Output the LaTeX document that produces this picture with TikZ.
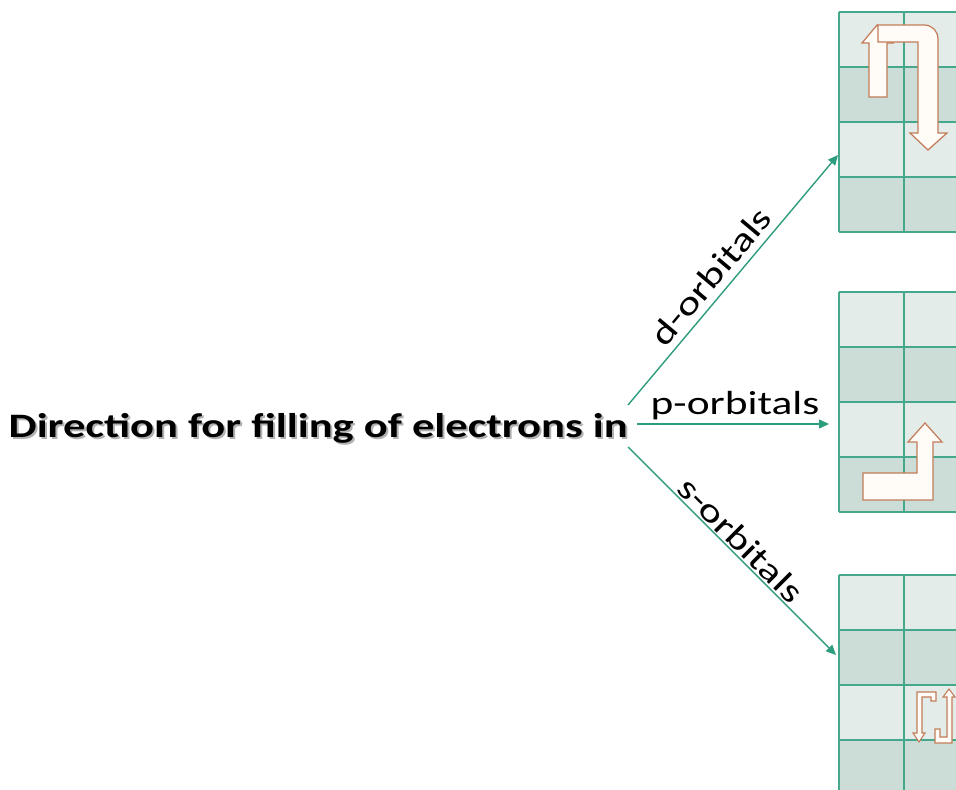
\documentclass[tikz,border=0pt]{standalone}
\usepackage{fontspec}
\setmainfont{Carlito}[FakeStretch=1.3]
\usetikzlibrary{arrows.meta}
\definecolor{gridline}{HTML}{45A88C}
\definecolor{connteal}{HTML}{2E9C7E}
\definecolor{lightcell}{HTML}{E4ECE9}
\definecolor{darkcell}{HTML}{CBDDD6}
\definecolor{arrowline}{HTML}{C27C5A}
\definecolor{arrowfill}{HTML}{FFFBF6}
\tikzset{
	conn/.style={draw=connteal, line width=0.8pt, -{Triangle[length=2mm,width=1.8mm]}},
	lbl/.style={font=\fontsize{19}{22}\selectfont, inner sep=1pt},
	bentarrow/.style={draw=arrowline, fill=arrowfill, line width=0.7pt, line join=miter},
}

\begin{document}
\begin{tikzpicture}[x=0.02cm,y=-0.02cm,thick]
		\useasboundingbox (0,0) rectangle (956,790);
		\clip (0,0) rectangle (956,790);
		% the three grids, rows 55 high, cells 65 wide
		\foreach \gtop in {12,292,575}{
			\foreach \r/\cellcol in {0/lightcell,1/darkcell,2/lightcell,3/darkcell}
				\fill[\cellcol] (839,{\gtop+55*\r}) rectangle (975,{\gtop+55*(\r+1)});
			\foreach \r in {0,...,4}
				\draw[gridline, line width=1.1pt] (839,{\gtop+55*\r}) -- (975,{\gtop+55*\r});
			\foreach \gx in {839,904}
				\draw[gridline, line width=1.1pt] (\gx,\gtop) -- (\gx,{\gtop+220});
		}
		
		\coordinate (dfrom) at (628,405);%start d
		\coordinate (pfrom) at (637,424);%start p
		\coordinate (sfrom) at (628,447);%start s
		\coordinate (dto) at (838,155);%grid d
		\coordinate (pto) at (829,424);%grid p
		\coordinate (sto) at (836,655);%grid s
		
		\node[font=\bfseries\fontsize{19.5}{23}\selectfont, anchor=base west, inner sep=0, text=black!30] (dirshadow) at (10,439) {Direction for filling of electrons in};
		\node[font=\bfseries\fontsize{19.5}{23}\selectfont, anchor=base west, inner sep=0] (dir) at (8,437) {Direction for filling of electrons in};
		
		\draw[conn] (dfrom) -- node[lbl, sloped, above=3pt, pos=.465] (dlbl) {d-orbitals} (dto);
		\draw[conn] (pfrom) -- (pto);
		\node[lbl, anchor=base west, inner sep=0] (plbl) at (650,414) {p-orbitals};
		\draw[conn] (sfrom) -- node[lbl, sloped, above=0pt, pos=.495] (slbl) {s-orbitals} (sto);
		
		% d grid: up arrow under a u-turn
		\draw[bentarrow] (869,97) -- (869,43) -- (862,43) -- (877,25) -- (893,43) -- (887,43) -- (887,97) -- cycle;
		\draw[bentarrow] (878,25) -- (924,25) .. controls (932,25) and (938,31) .. (938,39) -- (938,133) -- (947,133)
			-- (928,150) -- (910,133) -- (918,133) -- (918,42) -- (878,42) -- cycle;
		% p grid: bent up arrow
		\draw[bentarrow] (863,473) -- (917,473) -- (917,442) -- (908,442) -- (925,423) -- (942,442) -- (933,442)
			-- (933,500) -- (863,500) -- cycle;
		% s grid: two small bent arrows
		\draw[bentarrow, line width=0.6pt] (917,733) -- (917,692) -- (936,692) -- (936,701) -- (931,701) -- (931,697)
			-- (922,697) -- (922,733) -- (925,733) -- (919,742) -- (913,733) -- cycle;
		\draw[bentarrow, line width=0.6pt] (935,743) -- (952,743) -- (952,697) -- (955,697) -- (949,689) -- (943,697)
			-- (947,697) -- (947,737) -- (940,737) -- (940,729) -- (935,729) -- cycle;
\end{tikzpicture}
\end{document}
